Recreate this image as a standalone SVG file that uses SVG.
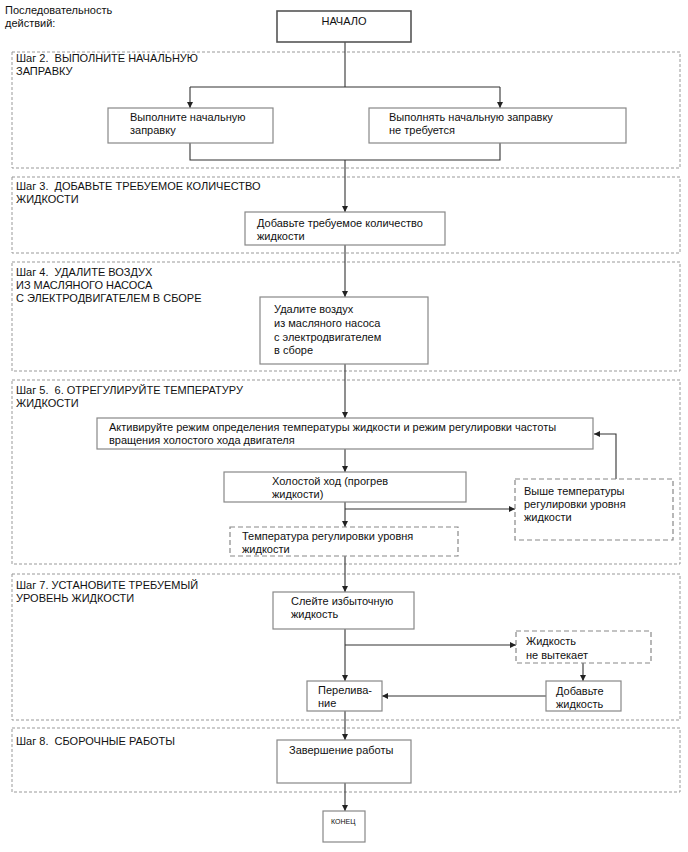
<svg xmlns="http://www.w3.org/2000/svg" width="688" height="852" viewBox="0 0 688 852">
<style>
text{font-family:"Liberation Sans",Arial,sans-serif;font-size:11px;fill:#111;white-space:pre}
.step{fill:none;stroke:#999;stroke-width:1;stroke-dasharray:3,2}
.box{fill:#fff;stroke:#888;stroke-width:1.2}
.dbox{fill:#fff;stroke:#888;stroke-width:1.2;stroke-dasharray:5,3}
.ln{fill:none;stroke:#333;stroke-width:1.1}
.arr{fill:none;stroke:#333;stroke-width:1.1;marker-end:url(#ah)}
</style>
<defs>
<marker id="ah" viewBox="0 0 10 10" refX="10" refY="5" markerWidth="7" markerHeight="6" markerUnits="userSpaceOnUse" orient="auto">
<path d="M0,0 L10,5 L0,10 z" fill="#222"/>
</marker>
</defs>
<rect width="688" height="852" fill="#fff"/>
<text x="5" y="14">Последовательность</text>
<text x="5" y="27">действий:</text>

<g id="step2"><rect class="step" x="12" y="52" width="668" height="116"/><text x="16" y="62" xml:space="preserve">Шаг 2.  ВЫПОЛНИТЕ НАЧАЛЬНУЮ</text><text x="16" y="75">ЗАПРАВКУ</text></g>
<g id="step3"><rect class="step" x="12" y="177" width="668" height="76"/><text x="16" y="190" xml:space="preserve">Шаг 3.  ДОБАВЬТЕ ТРЕБУЕМОЕ КОЛИЧЕСТВО</text><text x="16" y="203">ЖИДКОСТИ</text></g>
<g id="step4"><rect class="step" x="12" y="262" width="668" height="109"/><text x="16" y="276" xml:space="preserve">Шаг 4.  УДАЛИТЕ ВОЗДУХ</text><text x="16" y="289">ИЗ МАСЛЯНОГО НАСОСА</text><text x="16" y="302">С ЭЛЕКТРОДВИГАТЕЛЕМ В СБОРЕ</text></g>
<g id="step5"><rect class="step" x="12" y="380" width="668" height="184"/><text x="16" y="394" xml:space="preserve">Шаг 5.  6. ОТРЕГУЛИРУЙТЕ ТЕМПЕРАТУРУ</text><text x="16" y="407">ЖИДКОСТИ</text></g>
<g id="step7"><rect class="step" x="12" y="574" width="668" height="146"/><text x="16" y="589">Шаг 7. УСТАНОВИТЕ ТРЕБУЕМЫЙ</text><text x="16" y="602">УРОВЕНЬ ЖИДКОСТИ</text></g>
<g id="step8"><rect class="step" x="12" y="728" width="668" height="64"/><text x="16" y="745" xml:space="preserve">Шаг 8.  СБОРОЧНЫЕ РАБОТЫ</text></g>

<g id="connectors">
<line class="ln" x1="345" y1="42" x2="345" y2="87"/>
<line class="ln" x1="190" y1="87" x2="500" y2="87"/>
<line class="arr" x1="190" y1="87" x2="190" y2="108"/>
<line class="arr" x1="500" y1="87" x2="500" y2="108"/>
<polyline class="ln" points="190,143 190,160 500,160 500,143"/>
<line class="arr" x1="345" y1="160" x2="345" y2="212"/>
<line class="arr" x1="345" y1="245" x2="345" y2="297"/>
<line class="arr" x1="345" y1="364" x2="345" y2="418"/>
<line class="arr" x1="345" y1="449" x2="345" y2="472"/>
<line class="arr" x1="345" y1="502" x2="345" y2="527"/>
<line class="arr" x1="345" y1="509" x2="515" y2="509"/>
<polyline class="arr" points="616,479 616,434 594,434"/>
<line class="arr" x1="345" y1="556" x2="345" y2="592"/>
<line class="arr" x1="345" y1="629" x2="345" y2="681"/>
<line class="arr" x1="345" y1="645" x2="516" y2="645"/>
<line class="arr" x1="583" y1="663" x2="583" y2="681"/>
<line class="arr" x1="546" y1="696" x2="382" y2="696"/>
<line class="arr" x1="345" y1="711" x2="345" y2="740"/>
<line class="arr" x1="345" y1="783" x2="345" y2="811"/>
</g>

<g id="start"><rect x="277" y="11" width="134" height="31" fill="#fff" stroke="#555" stroke-width="1.6"/><text x="344" y="25" text-anchor="middle">НАЧАЛО</text></g>
<g id="n-refill"><rect class="box" x="108" y="108" width="165" height="35"/><text x="130" y="121">Выполните начальную</text><text x="130" y="134">заправку</text></g>
<g id="n-norefill"><rect class="box" x="369" y="108" width="257" height="35"/><text x="389" y="121">Выполнять начальную заправку</text><text x="389" y="134">не требуется</text></g>
<g id="n-add"><rect class="box" x="245" y="212" width="200" height="33"/><text x="257" y="227">Добавьте требуемое количество</text><text x="257" y="240">жидкости</text></g>
<g id="n-air"><rect class="box" x="260" y="297" width="168" height="67"/><text x="274" y="313">Удалите воздух</text><text x="274" y="327">из масляного насоса</text><text x="274" y="341">с электродвигателем</text><text x="274" y="354">в сборе</text></g>
<g id="n-activate"><rect class="box" x="97" y="418" width="496" height="31"/><text x="109" y="431">Активируйте режим определения температуры жидкости и режим регулировки частоты</text><text x="109" y="444">вращения холостого хода двигателя</text></g>
<g id="n-idle"><rect class="box" x="224" y="472" width="242" height="30"/><text x="272" y="485">Холостой ход (прогрев</text><text x="272" y="498">жидкости)</text></g>
<g id="n-above"><rect class="dbox" x="515" y="479" width="158" height="61"/><text x="524" y="495">Выше температуры</text><text x="524" y="508">регулировки уровня</text><text x="524" y="521">жидкости</text></g>
<g id="n-temp"><rect class="dbox" x="230" y="527" width="228" height="29"/><text x="242" y="540">Температура регулировки уровня</text><text x="242" y="553">жидкости</text></g>
<g id="n-drain"><rect class="box" x="273" y="592" width="141" height="37"/><text x="291" y="605">Слейте избыточную</text><text x="291" y="618">жидкость</text></g>
<g id="n-noflow"><rect class="dbox" x="516" y="631" width="135" height="32"/><text x="526" y="645">Жидкость</text><text x="526" y="659">не вытекает</text></g>
<g id="n-overflow"><rect class="box" x="307" y="681" width="75" height="30"/><text x="318" y="694">Перелива-</text><text x="318" y="707">ние</text></g>
<g id="n-addfluid"><rect class="box" x="546" y="681" width="75" height="30"/><text x="556" y="695">Добавьте</text><text x="556" y="708">жидкость</text></g>
<g id="n-finish"><rect class="box" x="277" y="740" width="134" height="43"/><text x="289" y="754">Завершение работы</text></g>
<g id="end"><rect class="box" x="323" y="811" width="42" height="31"/><text x="331" y="824" style="font-size:7px">КОНЕЦ</text></g>
</svg>
